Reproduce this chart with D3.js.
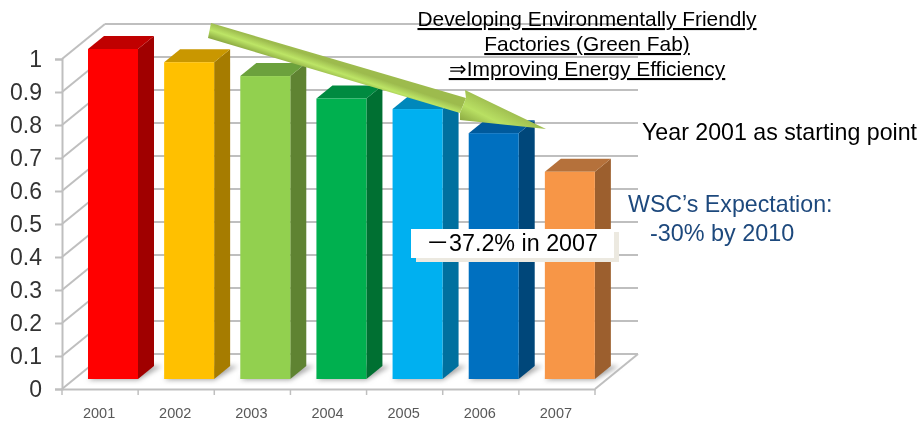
<!DOCTYPE html>
<html>
<head>
<meta charset="utf-8">
<script src="https://cdn.jsdelivr.net/npm/d3@7"></script>
<style>
  html, body { margin: 0; padding: 0; background: #fff; }
  svg { display: block; }
  text { font-family: "Liberation Sans", Arial, sans-serif; }
</style>
</head>
<body>
<div id="chart"></div>
<script>
// chart values
const years = ["2001", "2002", "2003", "2004", "2005", "2006", "2007"];
const energyIndex = [1, 0.96, 0.918, 0.85, 0.818, 0.745, 0.628];
const yTicks = [0, 0.1, 0.2, 0.3, 0.4, 0.5, 0.6, 0.7, 0.8, 0.9, 1];

// face colours per bar
const frontColors = ["#ff0000", "#ffc000", "#92d050", "#00b050", "#00b0f0", "#0070c0", "#f79646"];
const sideColors = ["#a00000", "#a67c00", "#5f8332", "#007033", "#00709f", "#00477a", "#9c5f2d"];
const topColors = ["#c00000", "#c99700", "#6ca13c", "#008a3f", "#0088bb", "#005a9c", "#b5713a"];

const titleLines = ["Developing Environmentally Friendly", "Factories (Green Fab)", "⇒Improving Energy Efficiency"];

const width = 919, height = 421;
const wallDx = 43, wallDy = -35;     // floor depth
const barDx = 16, barDy = -13;       // bar depth
const barInset = 26, barWidth = 50;
const barLift = 10;                  // bars stand a little behind the front edge
const gridColor = "#bfbfbf";

const root = d3.select("#chart").append("svg")
  .attr("width", width)
  .attr("height", height);

const x = d3.scaleBand().domain(years).range([62, 595]);
const y = d3.scaleLinear().domain([0, 1]).range([389, 59]);

const defs = root.append("defs");
defs.append("filter").attr("id", "soft")
  .attr("x", "-30%").attr("y", "-30%").attr("width", "160%").attr("height", "160%")
  .append("feGaussianBlur").attr("stdDeviation", 2.5);

// the source is a slightly soft image
defs.append("filter").attr("id", "scan")
  .attr("filterUnits", "userSpaceOnUse")
  .attr("x", 0).attr("y", 0).attr("width", width).attr("height", height)
  .append("feGaussianBlur").attr("stdDeviation", 0.45);

const shaftGrad = defs.append("linearGradient").attr("id", "shaft")
  .attr("gradientUnits", "userSpaceOnUse")
  .attr("x1", 212).attr("y1", 23).attr("x2", 207).attr("y2", 38);
shaftGrad.append("stop").attr("offset", 0).attr("stop-color", "#9dbb4e");
shaftGrad.append("stop").attr("offset", 0.45).attr("stop-color", "#bde566");
shaftGrad.append("stop").attr("offset", 1).attr("stop-color", "#86a33e");

const headGrad = defs.append("linearGradient").attr("id", "head")
  .attr("gradientUnits", "userSpaceOnUse")
  .attr("x1", 475).attr("y1", 92).attr("x2", 460).attr("y2", 122);
headGrad.append("stop").attr("offset", 0).attr("stop-color", "#9dbb4e");
headGrad.append("stop").attr("offset", 0.5).attr("stop-color", "#b9e063");
headGrad.append("stop").attr("offset", 1).attr("stop-color", "#86a33e");

const svg = root.append("g").attr("filter", "url(#scan)");

// white ground so the soft filter has something to blend with
svg.append("rect").attr("width", width).attr("height", height).attr("fill", "#fff");

// back wall grid and left wall diagonals
const grid = svg.append("g")
  .attr("stroke", gridColor)
  .attr("stroke-width", 2)
  .attr("fill", "none");

grid.selectAll(".back")
  .data(yTicks)
  .join("line")
  .attr("x1", x.range()[0] + wallDx)
  .attr("x2", x.range()[1] + wallDx)
  .attr("y1", d => y(d) + wallDy)
  .attr("y2", d => y(d) + wallDy);

grid.selectAll(".side")
  .data(yTicks)
  .join("line")
  .attr("x1", x.range()[0])
  .attr("x2", x.range()[0] + wallDx)
  .attr("y1", d => y(d))
  .attr("y2", d => y(d) + wallDy);

// floor right edge
grid.append("line")
  .attr("x1", x.range()[1])
  .attr("y1", y(0))
  .attr("x2", x.range()[1] + wallDx)
  .attr("y2", y(0) + wallDy);

// shadows on the floor
svg.append("g").selectAll("path")
  .data(years)
  .join("path")
  .attr("fill", "#a6a6a6")
  .attr("filter", "url(#soft)")
  .attr("d", d => {
    const x0 = x(d) + barInset, base = y(0) - barLift;
    return d3.line()([
      [x0, base + 1],
      [x0 + barWidth, base + 1],
      [x0 + barWidth + barDx + 8, base + barDy],
      [x0 + barDx, base + barDy]
    ]) + "Z";
  });

// bars, three faces each
const bars = svg.append("g").selectAll("g")
  .data(years.map((year, i) => ({ year, value: energyIndex[i], i })))
  .join("g");

const barLeft = d => x(d.year) + barInset;
const barBase = () => y(0) - barLift;
const barTop = d => barBase() - (y(0) - y(d.value));

bars.append("path")
  .attr("fill", d => sideColors[d.i])
  .attr("d", d => d3.line()([
    [barLeft(d) + barWidth, barTop(d)],
    [barLeft(d) + barWidth + barDx, barTop(d) + barDy],
    [barLeft(d) + barWidth + barDx, barBase() + barDy],
    [barLeft(d) + barWidth, barBase()]
  ]) + "Z");

bars.append("path")
  .attr("fill", d => topColors[d.i])
  .attr("d", d => d3.line()([
    [barLeft(d), barTop(d)],
    [barLeft(d) + barDx, barTop(d) + barDy],
    [barLeft(d) + barWidth + barDx, barTop(d) + barDy],
    [barLeft(d) + barWidth, barTop(d)]
  ]) + "Z");

bars.append("rect")
  .attr("x", barLeft)
  .attr("y", barTop)
  .attr("width", barWidth)
  .attr("height", d => barBase() - barTop(d))
  .attr("fill", d => frontColors[d.i]);

// axes
const yAxis = svg.append("g")
  .attr("transform", `translate(${x.range()[0]},0)`)
  .call(d3.axisLeft(y).tickValues(yTicks).tickSize(7).tickPadding(13).tickFormat(d => String(d)));
yAxis.selectAll("path, line").attr("stroke", gridColor).attr("stroke-width", 2);
yAxis.selectAll("text").attr("font-size", 23).attr("fill", "#333333")
  .style("font-family", '"Liberation Sans", Arial, sans-serif');

const xAxis = svg.append("g")
  .attr("transform", `translate(0,${y(0)})`)
  .call(d3.axisBottom(x).tickSize(0).tickPadding(19));
xAxis.select("path").attr("stroke", gridColor).attr("stroke-width", 2);
xAxis.selectAll("text").attr("font-size", 14.5).attr("fill", "#595959")
  .attr("dx", -1)
  .style("font-family", '"Liberation Sans", Arial, sans-serif');

// ticks sit between the categories
xAxis.selectAll(".edge")
  .data(years.concat("end"))
  .join("line")
  .attr("x1", d => d === "end" ? x.range()[1] : x(d))
  .attr("x2", d => d === "end" ? x.range()[1] : x(d))
  .attr("y1", 0)
  .attr("y2", 6)
  .attr("stroke", gridColor)
  .attr("stroke-width", 1.5);

// big trend arrow
const arrow = svg.append("g");
arrow.append("path")
  .attr("fill", "url(#shaft)")
  .attr("d", "M211,23 L466,98 L460,113 L208,38 Z");
arrow.append("path")
  .attr("fill", "url(#head)")
  .attr("d", "M465,90 L546,129 L460,120 L460,113 L466,98 Z");

// annotations
svg.append("g").selectAll("text")
  .data(titleLines)
  .join("text")
  .attr("x", 587)
  .attr("y", (d, i) => [26, 51, 76][i])
  .attr("text-anchor", "middle")
  .attr("font-size", 20.9)
  .attr("fill", "#000")
  .attr("text-decoration", "underline")
  .text(d => d);

svg.append("text")
  .attr("x", 642).attr("y", 140)
  .attr("font-size", 23.2)
  .attr("fill", "#000")
  .text("Year 2001 as starting point");

svg.append("text")
  .attr("x", 628).attr("y", 212)
  .attr("font-size", 23.2)
  .attr("fill", "#1f497d")
  .text("WSC’s Expectation:");

svg.append("text")
  .attr("x", 650).attr("y", 241)
  .attr("font-size", 23.4)
  .attr("fill", "#1f497d")
  .text("-30% by 2010");

svg.append("rect")
  .attr("x", 416).attr("y", 232).attr("width", 203).attr("height", 30)
  .attr("fill", "#ece9e0");
svg.append("rect")
  .attr("x", 411).attr("y", 229).attr("width", 203).attr("height", 29)
  .attr("fill", "#fff");

const boxLabel = svg.append("text")
  .attr("y", 251)
  .attr("font-size", 23.3)
  .attr("fill", "#000");
boxLabel.append("tspan")
  .attr("x", 426)
  .style("font-family", '"Noto Sans CJK JP"')
  .text("－");
boxLabel.append("tspan")
  .attr("x", 449)
  .text("37.2% in 2007");
</script>
</body>
</html>
